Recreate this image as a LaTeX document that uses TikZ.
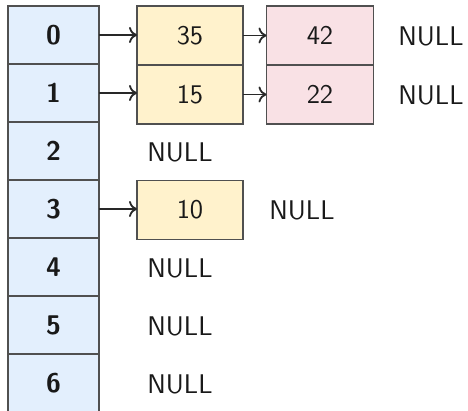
\documentclass[tikz,border=0pt]{standalone}
\usetikzlibrary{arrows.meta}
\definecolor{idxblue}{RGB}{227,239,253}
\definecolor{valyellow}{RGB}{255,242,204}
\definecolor{valpink}{RGB}{249,225,229}
\definecolor{edgegray}{RGB}{80,80,80}
\definecolor{txt}{RGB}{25,25,25}
\definecolor{arrowgray}{RGB}{40,40,40}
\begin{document}
\begin{tikzpicture}[x=0.5pt,y=-0.5pt,
  box/.style={draw=edgegray, line width=0.6pt, inner sep=0pt, outer sep=0pt, text=txt},
  cell/.style={box, fill=idxblue, minimum width=45.5pt, minimum height=29pt, font=\sffamily\bfseries\fontsize{13.5}{16}\selectfont},
  vfont/.style={font=\sffamily\fontsize{13.5}{16}\selectfont},
  yel/.style={box, vfont, fill=valyellow, minimum width=53pt, minimum height=29.5pt},
  pnk/.style={box, vfont, fill=valpink, minimum width=53.5pt, minimum height=29.5pt},
  nul/.style={vfont, inner sep=0pt, text=txt},
  ptr/.style={-{To[length=4pt,width=8pt]}, line width=0.9pt, arrowgray}]
\useasboundingbox (0,0) rectangle (468,411);
\foreach \i in {0,...,6} \node[cell] (t\i) at (53.5, 35+58*\i) {\i};
\node[yel] (a0) at (190, 35.5) {35};
\node[yel] (a1) at (190, 94.5) {15};
\node[yel] (a3) at (190, 210) {10};
\node[pnk] (b0) at (320, 35.5) {42};
\node[pnk] (b1) at (320, 94.5) {22};
\node[nul] (n0) at (431, 36) {NULL};
\node[nul] (n1) at (431, 95) {NULL};
\node[nul] (n2) at (180, 152) {NULL};
\node[nul] (n3) at (302, 210) {NULL};
\node[nul] (n4) at (180, 268) {NULL};
\node[nul] (n5) at (180, 326) {NULL};
\node[nul] (n6) at (180, 384) {NULL};
\draw[ptr] (t0.east) -- (t0.east -| a0.west);
\draw[ptr] (t1.east) -- (t1.east -| a1.west);
\draw[ptr] (t3.east) -- (t3.east -| a3.west);
\draw[ptr] (a0.east) -- (a0.east -| b0.west);
\draw[ptr] (a1.east) -- (a1.east -| b1.west);
\end{tikzpicture}
\end{document}
